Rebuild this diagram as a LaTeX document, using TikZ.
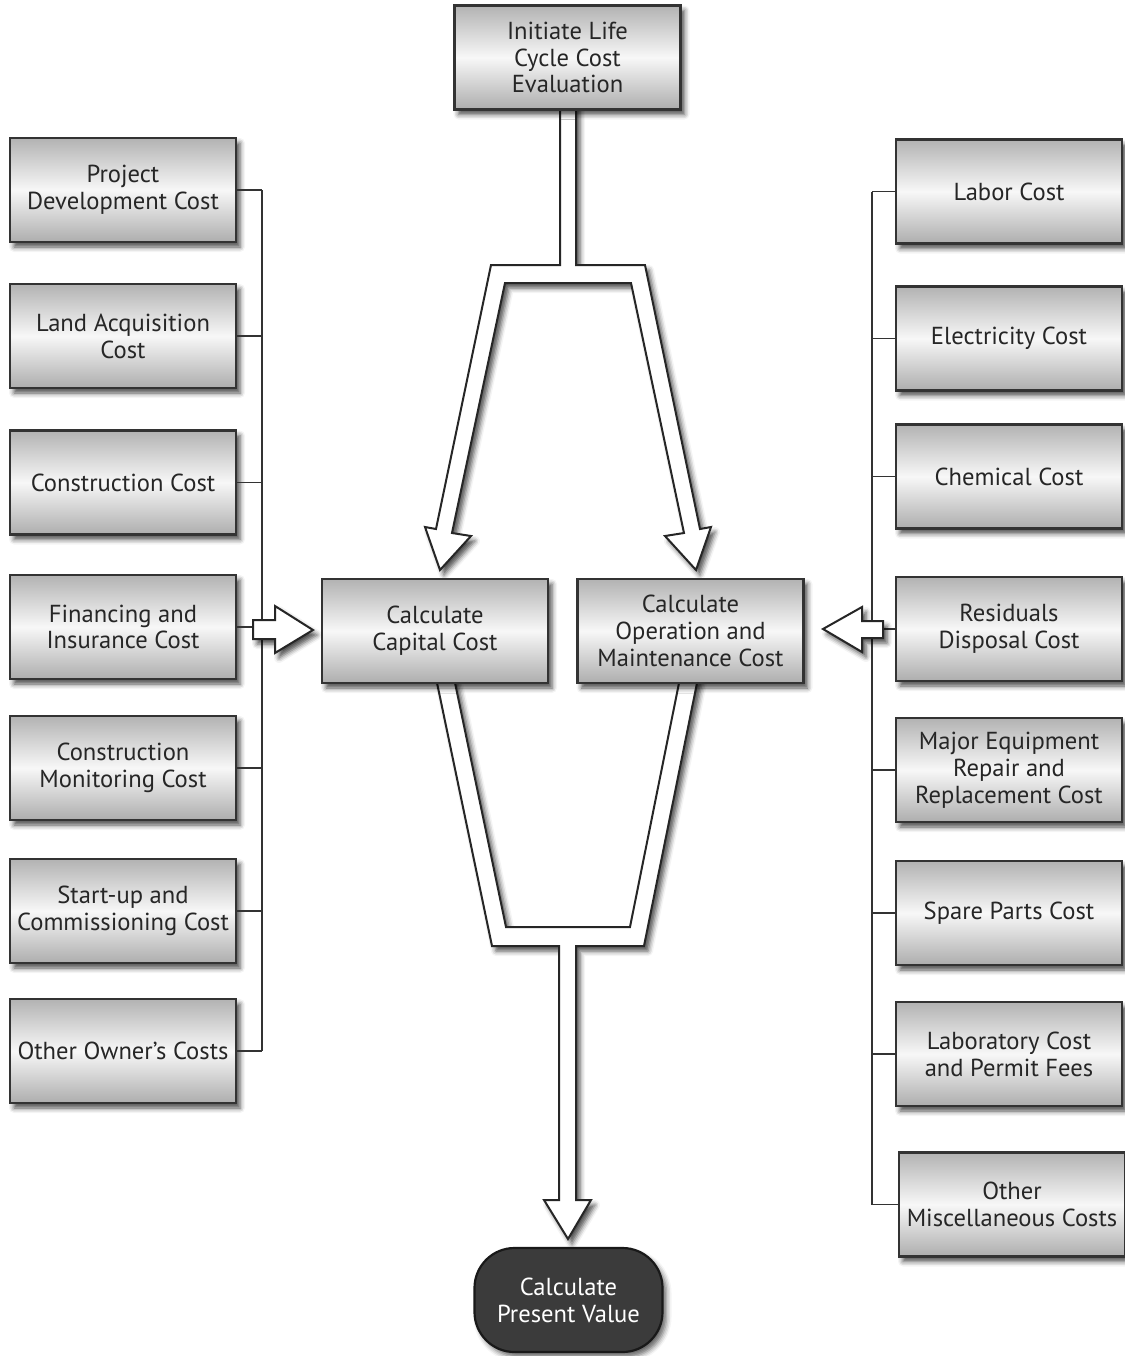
\documentclass[tikz,border=0pt]{standalone}
\usepackage{fontspec}
\setmainfont{PT Sans}
\usetikzlibrary{shadows.blur}
\tikzset{ b/.style = { rectangle % cost box
        , draw = black!80
        , line width = 1.1pt
        , top color = black!30
        , bottom color = black!32
        , middle color = black!3
        , minimum width = 113pt
        , minimum height = 52pt
        , inner sep = 2pt
        , align = center
        , text = black!85
        , font = \fontsize{12.3}{13.4}\selectfont
        , blur shadow = {shadow xshift=2pt, shadow yshift=-2.5pt, shadow blur radius=2.5pt, shadow opacity=70}
        }
        , bus/.style = { draw = black!80 % bus line
        , line width = 0.8pt
        }
        }

\begin{document}
\begin{tikzpicture}[x=0.5pt, y=-0.5pt, line join=miter,
        hollow_style/.style={draw=black!85, line width=1pt, fill=white,
            blur shadow={shadow xshift=2pt, shadow yshift=-2.5pt, shadow blur radius=2.5pt, shadow opacity=70}},
        final_style/.style={rectangle, rounded corners=20pt, minimum width=94pt, minimum height=52pt,
            line width=1.1pt, draw=black!90, fill=black!77, text=white, align=center,
            font=\fontsize{12.3}{13.4}\selectfont,
            blur shadow={shadow xshift=2pt, shadow yshift=-2.5pt, shadow blur radius=2.5pt, shadow opacity=60}}]
        \useasboundingbox (0,0) rectangle (1125,1356);

        % hollow arrows of the main flow
        \draw [hollow_style] (560,105) -- (560,265) -- (491,265) -- (436,529) -- (425,527) -- (440,570) -- (471,536) -- (452,533) -- (505,283) -- (631,283) -- (684,533) -- (665,536) -- (696,570) -- (711,527) -- (700,529) -- (645,265) -- (576,265) -- (576,105) -- cycle;
        \draw [hollow_style] (436,678) -- (492,946) -- (559,946) -- (559,1200) -- (544,1200) -- (568,1239) -- (591,1200) -- (576,1200) -- (576,946) -- (644,946) -- (698,678) -- (680,678) -- (630,927) -- (506,927) -- (454,678) -- cycle;

        \node [b] (n1) at (567.5,57.5) {Initiate Life\\Cycle Cost\\Evaluation};
        \node [b] (n2) at (435,631) {Calculate\\Capital Cost};
        \node [b] (n3) at (690.5,631) {Calculate\\Operation and\\Maintenance Cost};
        \node [final_style] (n4) at (568.5,1300) {Calculate\\Present Value};

        % capital costs
        \node [b] (l1) at (123,190) {Project\\Development Cost};
        \node [b] (l2) at (123,336) {Land Acquisition\\Cost};
        \node [b] (l3) at (123,482.5) {Construction Cost};
        \node [b] (l4) at (123,627) {Financing and\\Insurance Cost};
        \node [b] (l5) at (123,768) {Construction\\Monitoring Cost};
        \node [b] (l6) at (123,911) {Start-up and\\Commissioning Cost};
        \node [b] (l7) at (123,1051) {Other Owner’s Costs};

        % operation and maintenance costs
        \node [b] (r1) at (1009,191.5) {Labor Cost};
        \node [b] (r2) at (1009,338.5) {Electricity Cost};
        \node [b] (r3) at (1009,476.5) {Chemical Cost};
        \node [b] (r4) at (1009,629) {Residuals\\Disposal Cost};
        \node [b] (r5) at (1009,770) {Major Equipment\\Repair and\\Replacement Cost};
        \node [b] (r6) at (1009,913) {Spare Parts Cost};
        \node [b] (r7) at (1009,1054) {Laboratory Cost\\and Permit Fees};
        \node [b] (r8) at (1012,1204.5) {Other\\Miscellaneous Costs};

        \coordinate (lbus) at (262,0);
        \coordinate (rbus) at (872,0);
        \draw [bus] (l1.east -| lbus) -- (l7.east -| lbus);
        \draw [bus] (r1.west -| rbus) -- (r8.west -| rbus);
        \foreach \i in {1,...,7}
            \draw [bus] (l\i.east) -- (l\i.east -| lbus);
        \foreach \i in {1,...,8}
            \draw [bus] (r\i.west) -- (r\i.west -| rbus);

        % side arrows into the two sums
        \draw [hollow_style] (253,620) -- (275,620) -- (275,606) -- (313,630) -- (275,653) -- (275,639) -- (253,639) -- cycle;
        \draw [hollow_style] (883,621) -- (862,621) -- (862,607) -- (823,629) -- (862,652) -- (862,638) -- (883,638) -- cycle;
\end{tikzpicture}
\end{document}
